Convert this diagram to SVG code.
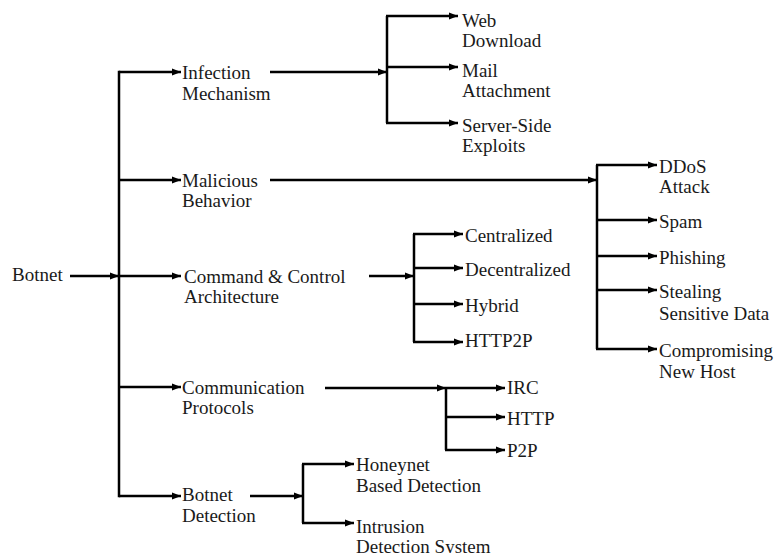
<svg xmlns="http://www.w3.org/2000/svg" width="775" height="553" viewBox="0 0 775 553">
  <style>
    .wire { fill: none; stroke: #000; stroke-width: 2.5; }
    .arr { fill: none; stroke: #000; stroke-width: 2.5; marker-end: url(#tip); }
  </style>
  <defs>
    <marker id="tip" markerUnits="userSpaceOnUse" markerWidth="10" markerHeight="8" refX="9" refY="4" orient="auto">
      <path d="M0,0.5 L9,4 L0,7.5 Z" fill="#000"/>
    </marker>
  </defs>
  <rect width="775" height="553" fill="#fff"/>

  <!-- connectors -->
  <g id="connectors">
    <!-- root -->
    <line class="arr" x1="70" y1="276" x2="119" y2="276"/>
    <line class="wire" x1="119" y1="70.8" x2="119" y2="497.2"/>
    <line class="arr" x1="119" y1="72" x2="181" y2="72"/>
    <line class="arr" x1="119" y1="180" x2="181" y2="180"/>
    <line class="arr" x1="119" y1="276" x2="181" y2="276"/>
    <line class="arr" x1="119" y1="387" x2="181" y2="387"/>
    <line class="arr" x1="119" y1="496" x2="181" y2="496"/>

    <!-- infection mechanism -->
    <line class="arr" x1="270" y1="72" x2="387" y2="72"/>
    <path class="wire" d="M387,16 V123"/>
    <line class="arr" x1="386" y1="16" x2="458" y2="16"/>
    <line class="arr" x1="387" y1="67" x2="458" y2="67"/>
    <line class="arr" x1="386" y1="123" x2="458" y2="123"/>

    <!-- malicious behavior -->
    <line class="arr" x1="270" y1="180" x2="597" y2="180"/>
    <path class="wire" d="M597,165 V349"/>
    <line class="arr" x1="596" y1="165" x2="657" y2="165"/>
    <line class="arr" x1="597" y1="220" x2="657" y2="220"/>
    <line class="arr" x1="597" y1="256" x2="657" y2="256"/>
    <line class="arr" x1="597" y1="290" x2="657" y2="290"/>
    <line class="arr" x1="596" y1="349" x2="657" y2="349"/>

    <!-- command & control -->
    <line class="arr" x1="369" y1="276" x2="414" y2="276"/>
    <path class="wire" d="M414,234 V342"/>
    <line class="arr" x1="413" y1="234" x2="463" y2="234"/>
    <line class="arr" x1="414" y1="268" x2="463" y2="268"/>
    <line class="arr" x1="414" y1="304" x2="463" y2="304"/>
    <line class="arr" x1="413" y1="342" x2="463" y2="342"/>

    <!-- communication protocols -->
    <line class="arr" x1="325" y1="388" x2="446" y2="388"/>
    <path class="wire" d="M446,388 V450"/>
    <line class="arr" x1="446" y1="388" x2="505" y2="388"/>
    <line class="arr" x1="446" y1="417" x2="505" y2="417"/>
    <line class="arr" x1="445" y1="450" x2="505" y2="450"/>

    <!-- botnet detection -->
    <line class="arr" x1="250" y1="496" x2="303" y2="496"/>
    <path class="wire" d="M303,464 V523"/>
    <line class="arr" x1="302" y1="464" x2="354" y2="464"/>
    <line class="arr" x1="302" y1="523" x2="354" y2="523"/>
  </g>

  <!-- nodes -->
  <g id="botnet"><text font-family="Times New Roman, Liberation Serif, serif" font-size="19" fill="#1a1a1a" x="12" y="281">Botnet</text></g>

  <g id="infection"><text font-family="Times New Roman, Liberation Serif, serif" font-size="19" fill="#1a1a1a" x="182" y="79">Infection<tspan x="182" y="100">Mechanism</tspan></text></g>
  <g id="malicious"><text font-family="Times New Roman, Liberation Serif, serif" font-size="19" fill="#1a1a1a" x="182" y="187">Malicious<tspan x="182" y="207">Behavior</tspan></text></g>
  <g id="cnc"><text font-family="Times New Roman, Liberation Serif, serif" font-size="19" fill="#1a1a1a" x="184" y="283">Command &amp; Control<tspan x="184" y="303">Architecture</tspan></text></g>
  <g id="protocols"><text font-family="Times New Roman, Liberation Serif, serif" font-size="19" fill="#1a1a1a" x="182" y="394">Communication<tspan x="182" y="414">Protocols</tspan></text></g>
  <g id="detection"><text font-family="Times New Roman, Liberation Serif, serif" font-size="19" fill="#1a1a1a" x="182" y="501">Botnet<tspan x="182" y="522">Detection</tspan></text></g>

  <g id="web"><text font-family="Times New Roman, Liberation Serif, serif" font-size="19" fill="#1a1a1a" x="462" y="27">Web<tspan x="462" y="47">Download</tspan></text></g>
  <g id="mail"><text font-family="Times New Roman, Liberation Serif, serif" font-size="19" fill="#1a1a1a" x="462" y="77">Mail<tspan x="462" y="97">Attachment</tspan></text></g>
  <g id="server"><text font-family="Times New Roman, Liberation Serif, serif" font-size="19" fill="#1a1a1a" x="462" y="132">Server-Side<tspan x="462" y="152">Exploits</tspan></text></g>

  <g id="ddos"><text font-family="Times New Roman, Liberation Serif, serif" font-size="19" fill="#1a1a1a" x="659" y="173">DDoS<tspan x="659" y="193">Attack</tspan></text></g>
  <g id="spam"><text font-family="Times New Roman, Liberation Serif, serif" font-size="19" fill="#1a1a1a" x="659" y="228">Spam</text></g>
  <g id="phishing"><text font-family="Times New Roman, Liberation Serif, serif" font-size="19" fill="#1a1a1a" x="659" y="264">Phishing</text></g>
  <g id="stealing"><text font-family="Times New Roman, Liberation Serif, serif" font-size="19" fill="#1a1a1a" x="659" y="298">Stealing<tspan x="659" y="320">Sensitive Data</tspan></text></g>
  <g id="compromising"><text font-family="Times New Roman, Liberation Serif, serif" font-size="19" fill="#1a1a1a" x="659" y="357">Compromising<tspan x="659" y="378">New Host</tspan></text></g>

  <g id="centralized"><text font-family="Times New Roman, Liberation Serif, serif" font-size="19" fill="#1a1a1a" x="465" y="242">Centralized</text></g>
  <g id="decentralized"><text font-family="Times New Roman, Liberation Serif, serif" font-size="19" fill="#1a1a1a" x="465" y="276">Decentralized</text></g>
  <g id="hybrid"><text font-family="Times New Roman, Liberation Serif, serif" font-size="19" fill="#1a1a1a" x="465" y="312">Hybrid</text></g>
  <g id="http2p"><text font-family="Times New Roman, Liberation Serif, serif" font-size="19" fill="#1a1a1a" x="465" y="347">HTTP2P</text></g>

  <g id="irc"><text font-family="Times New Roman, Liberation Serif, serif" font-size="19" fill="#1a1a1a" x="507" y="394">IRC</text></g>
  <g id="http"><text font-family="Times New Roman, Liberation Serif, serif" font-size="19" fill="#1a1a1a" x="507" y="425">HTTP</text></g>
  <g id="p2p"><text font-family="Times New Roman, Liberation Serif, serif" font-size="19" fill="#1a1a1a" x="507" y="457">P2P</text></g>

  <g id="honeynet"><text font-family="Times New Roman, Liberation Serif, serif" font-size="19" fill="#1a1a1a" x="356" y="471">Honeynet<tspan x="356" y="492">Based Detection</tspan></text></g>
  <g id="intrusion"><text font-family="Times New Roman, Liberation Serif, serif" font-size="19" fill="#1a1a1a" x="356" y="533">Intrusion<tspan x="356" y="553">Detection System</tspan></text></g>
</svg>
